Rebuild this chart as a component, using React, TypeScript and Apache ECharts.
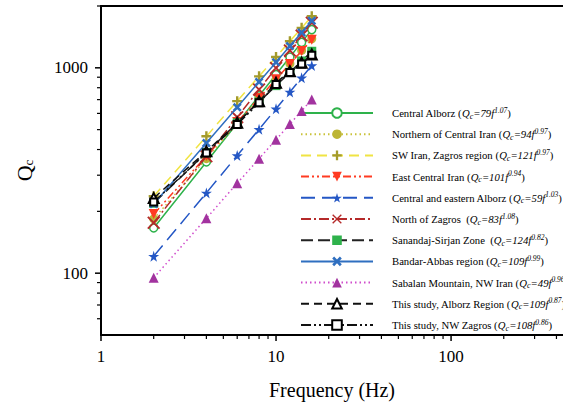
import React, { useEffect, useRef } from "react";
import * as echarts from "echarts";

const frequencies = [2, 4, 6, 8, 10, 12, 14, 16];

const centralAlborz = [166, 348, 537, 731, 928, 1128, 1330, 1535];
const northernCentralIran = [184, 361, 535, 707, 877, 1047, 1216, 1384];
const swIranZagros = [237, 464, 688, 909, 1129, 1348, 1565, 1782];
const eastCentralIran = [194, 372, 544, 713, 880, 1044, 1207, 1368];
const centralEasternAlborz = [121, 246, 374, 502, 632, 763, 894, 1026];
const northZagros = [176, 371, 575, 784, 998, 1215, 1435, 1658];
const sanandajSirjan = [219, 387, 539, 682, 819, 951, 1080, 1204];
const bandarAbbas = [217, 430, 642, 854, 1065, 1276, 1486, 1696];
const sabalan = [95, 185, 274, 361, 447, 532, 617, 702];
const thisStudyAlborz = [232, 392, 540, 687, 845, 963, 1058, 1161];
const thisStudyNWZagros = [222, 385, 530, 675, 830, 950, 1045, 1150];

const regionNames = [
  "Central Alborz",
  "Northern of Central Iran",
  "SW Iran, Zagros region",
  "East Central Iran",
  "Central and eastern Alborz",
  "North of Zagros ",
  "Sanandaj-Sirjan Zone ",
  "Bandar-Abbas region",
  "Sabalan Mountain, NW Iran",
  "This study, Alborz Region",
  "This study, NW Zagros",
];
const q0Labels = ["79", "94", "121", "101", "59", "83", "124", "109", "49", "109", "108"];
const exponentLabels = ["1.07", "0.97", "0.97", "0.94", "1.03", "1.08", "0.82", "0.99", "0.96", "0.87", "0.86"];

const xMajorTicks = [1, 10, 100];
const xMinorTicks = [2, 3, 4, 5, 6, 7, 8, 9, 20, 30, 40, 50, 60, 70, 80, 90, 200, 300, 400];
const yMajorTicks = [100, 1000];
const yMinorTicks = [60, 70, 80, 90, 200, 300, 400, 500, 600, 700, 800, 900, 2000];

const X_MIN = 1;
const X_MAX = 436;
const Y_MIN = 50;
const Y_MAX = 2000;

const SERIF = "'Liberation Serif', 'Times New Roman', serif";

const X_SYMBOL = "path://M0,1 L1,0 L5,4 L9,0 L10,1 L6,5 L10,9 L9,10 L5,6 L1,10 L0,9 L4,5 Z";
const X_BOLD_SYMBOL = "path://M0,2 L2,0 L5,3 L8,0 L10,2 L7,5 L10,8 L8,10 L5,7 L2,10 L0,8 L3,5 Z";
const PLUS_SYMBOL = "path://M3.8,0 H6.2 V3.8 H10 V6.2 H6.2 V10 H3.8 V6.2 H0 V3.8 H3.8 Z";
const STAR_SYMBOL = "path://M50,0 L61,35 L98,35 L68,57 L79,91 L50,70 L21,91 L32,57 L2,35 L39,35 Z";

export default function App() {
  const ref = useRef<HTMLDivElement>(null);

  useEffect(() => {
    if (!ref.current) return;
    const chart = echarts.init(ref.current, null, { renderer: "svg" });

    const pair = (vals: number[]) => frequencies.map((f, i) => [f, vals[i]]);

    const styles = [
      { data: centralAlborz, line: "#2eb24b", dash: "solid", symbol: "circle", size: 8, fill: "#ffffff", border: "#2eb24b", bw: 1.5 },
      { data: northernCentralIran, line: "#c9c23a", dash: [1.5, 3], symbol: "circle", size: 9, fill: "#bdb535", border: "#bdb535", bw: 0 },
      { data: swIranZagros, line: "#f0e443", dash: [10, 6], symbol: PLUS_SYMBOL, size: 10, fill: "#a49b2c", border: "#a49b2c", bw: 0 },
      { data: eastCentralIran, line: "#ff3b22", dash: [8, 3, 2, 3, 2, 3], symbol: "triangle", size: 10, fill: "#ff3b22", border: "#ff3b22", bw: 0, rotate: 180 },
      { data: centralEasternAlborz, line: "#2457c5", dash: [14, 7], symbol: STAR_SYMBOL, size: 11, fill: "#2457c5", border: "#2457c5", bw: 0 },
      { data: northZagros, line: "#b52a2a", dash: [10, 3, 2, 3], symbol: X_SYMBOL, size: 13, fill: "#b52a2a", border: "#b52a2a", bw: 0 },
      { data: sanandajSirjan, line: "#222222", dash: [12, 5], symbol: "rect", size: 9, fill: "#2eb24b", border: "#2eb24b", bw: 0 },
      { data: bandarAbbas, line: "#2f6fc0", dash: "solid", symbol: X_BOLD_SYMBOL, size: 9, fill: "#2f6fc0", border: "#2f6fc0", bw: 0 },
      { data: sabalan, line: "#d04ccc", dash: [1.5, 3], symbol: "triangle", size: 10, fill: "#a2339f", border: "#a2339f", bw: 0 },
      { data: thisStudyAlborz, line: "#111111", dash: [8, 5], symbol: "triangle", size: 10, fill: "#ffffff", border: "#000000", bw: 2 },
      { data: thisStudyNWZagros, line: "#111111", dash: [10, 3, 2, 3, 2, 3], symbol: "rect", size: 7, fill: "#ffffff", border: "#000000", bw: 2 },
    ];

    const series: any[] = styles.map((s: any, i) => ({
      type: "line",
      name: regionNames[i],
      data: pair(s.data),
      symbol: s.symbol,
      symbolSize: s.size,
      symbolRotate: s.rotate || 0,
      showAllSymbol: true,
      lineStyle: { color: s.line, width: 1.5, type: s.dash },
      itemStyle: { color: s.fill, borderColor: s.border, borderWidth: s.bw },
      emphasis: { disabled: true },
      z: 2 + i,
    }));

    // Axis ticks drawn through the axes' own log scales
    const xTickSeries = (ticks: number[], len: number, width: number) => ({
      type: "custom",
      coordinateSystem: "cartesian2d",
      xAxisIndex: 0,
      yAxisIndex: 0,
      silent: true,
      clip: false,
      z: 20,
      data: ticks.map((v) => [v, Y_MIN]),
      renderItem: (params: any, api: any) => {
        const p = api.coord([api.value(0), Y_MIN]);
        return {
          type: "line",
          shape: { x1: p[0], y1: p[1], x2: p[0], y2: p[1] + len },
          style: { stroke: "#000", lineWidth: width },
        };
      },
    });
    const yTickSeries = (ticks: number[], len: number, width: number) => ({
      type: "custom",
      coordinateSystem: "cartesian2d",
      xAxisIndex: 0,
      yAxisIndex: 0,
      silent: true,
      clip: false,
      z: 20,
      data: ticks.map((v) => [X_MIN, v]),
      renderItem: (params: any, api: any) => {
        const p = api.coord([X_MIN, api.value(1)]);
        return {
          type: "line",
          shape: { x1: p[0], y1: p[1], x2: p[0] - len, y2: p[1] },
          style: { stroke: "#000", lineWidth: width },
        };
      },
    });
    series.push(xTickSeries(xMajorTicks, 6, 1.5));
    series.push(xTickSeries(xMinorTicks, 4, 1.2));
    series.push(yTickSeries(yMajorTicks, 6, 1.5));
    series.push(yTickSeries(yMinorTicks, 4, 1.2));

    const legendFormatter = (name: string) => {
      const i = regionNames.indexOf(name);
      return `{g| }{t|${name} (}{i|Q}{s|c}{i|=${q0Labels[i]}f}{p|${exponentLabels[i]}}{t|)}`;
    };

    const axisLineStyle = { color: "#000", width: 2 };

    chart.setOption({
      animation: false,
      grid: { left: 101, top: 6, right: 0, bottom: 75, containLabel: false },
      xAxis: [
        {
          type: "log",
          logBase: 10,
          min: X_MIN,
          max: X_MAX,
          position: "bottom",
          axisLine: { show: true, onZero: false, lineStyle: axisLineStyle },
          axisTick: { show: false },
          axisLabel: {
            customValues: xMajorTicks,
            formatter: (v: number) => String(Math.round(v)),
            fontFamily: SERIF,
            fontSize: 17,
            color: "#000",
            margin: 13,
          },
          splitLine: { show: false },
          name: "Frequency (Hz)",
          nameLocation: "middle",
          nameGap: 45,
          nameTextStyle: { fontFamily: SERIF, fontSize: 20, color: "#000" },
        },
        {
          type: "log",
          logBase: 10,
          min: X_MIN,
          max: X_MAX,
          position: "top",
          axisLine: { show: true, onZero: false, lineStyle: axisLineStyle },
          axisTick: { show: false },
          axisLabel: { show: false },
          splitLine: { show: false },
        },
      ],
      yAxis: [
        {
          type: "log",
          logBase: 10,
          min: Y_MIN,
          max: Y_MAX,
          position: "left",
          axisLine: { show: true, onZero: false, lineStyle: axisLineStyle },
          axisTick: { show: false },
          axisLabel: {
            customValues: yMajorTicks,
            formatter: (v: number) => String(Math.round(v)),
            fontFamily: SERIF,
            fontSize: 17,
            color: "#000",
            margin: 13,
          },
          splitLine: { show: false },
          name: "{q|Q}{c|c}",
          nameLocation: "middle",
          nameGap: 66,
          nameRotate: 90,
          nameTextStyle: {
            rich: {
              q: { fontFamily: SERIF, fontSize: 22, color: "#000", lineHeight: 22 },
              c: { fontFamily: SERIF, fontSize: 13, color: "#000", lineHeight: 12, verticalAlign: "bottom" },
            },
          },
        },
      ],
      legend: {
        orient: "vertical",
        left: 300,
        top: 106,
        padding: 0,
        itemWidth: 72,
        itemHeight: 12,
        itemGap: 7.2,
        selectedMode: false,
        data: regionNames,
        formatter: legendFormatter,
        textStyle: {
          fontFamily: SERIF,
          fontSize: 10.7,
          color: "#000",
          rich: {
            g: { width: 14, fontSize: 10.7, lineHeight: 14 },
            t: { fontFamily: SERIF, fontSize: 10.7, color: "#000", lineHeight: 14 },
            i: { fontFamily: SERIF, fontStyle: "italic", fontSize: 10.7, color: "#000", lineHeight: 14 },
            s: { fontFamily: SERIF, fontStyle: "italic", fontSize: 8, color: "#000", lineHeight: 8, verticalAlign: "bottom" },
            p: { fontFamily: SERIF, fontStyle: "italic", fontSize: 7.5, color: "#000", lineHeight: 8, verticalAlign: "top" },
          },
        },
      },
      series,
    });

    return () => chart.dispose();
  }, []);

  return (
    <div
      ref={ref}
      style={{ position: "absolute", left: 0, top: 0, width: 563, height: 410, background: "#fff" }}
    />
  );
}
